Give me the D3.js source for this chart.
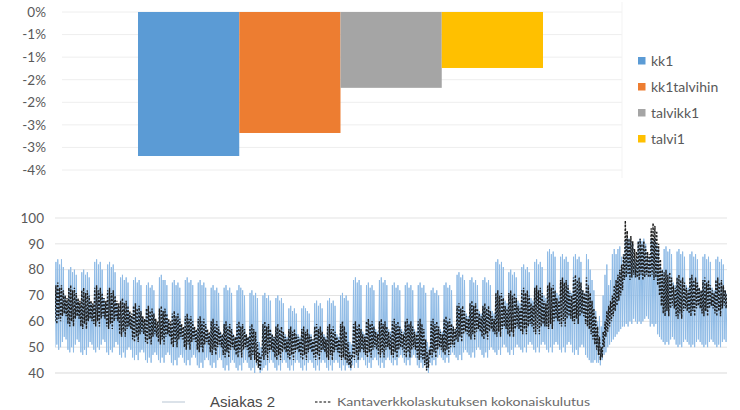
<!DOCTYPE html>
<html>
<head>
<meta charset="utf-8">
<script src="https://cdn.jsdelivr.net/npm/d3@7/dist/d3.min.js"></script>
<style>
  html, body { margin: 0; padding: 0; background: #fff; }
  svg { display: block; }
</style>
</head>
<body>
<svg id="chart" width="740" height="410"></svg>
<script>
// ---------- Top chart data ----------
const barSeries = ["kk1", "kk1talvihin", "talvikk1", "talvi1"];
const barValues = [-3.19, -2.68, -1.68, -1.24];          // percent
const barColors = ["#5b9bd5", "#ed7d31", "#a5a5a5", "#ffc000"];
const barTickValues = [0, -0.5, -1, -1.5, -2, -2.5, -3, -3.5];
const barTickLabels = ["0%", "-1%", "-1%", "-2%", "-2%", "-3%", "-3%", "-4%"];

// ---------- Bottom chart data (half-day samples: night low, day high) ----------
const lineTickValues = [40, 50, 60, 70, 80, 90, 100];
const lineLegend = ["Asiakas 2", "Kantaverkkolaskutuksen kokonaiskulutus"];
const asiakas2 = [
50,83,51,84,49,82,50,84,52,81,54,70,53,68,
49,80,48,81,50,79,48,80,51,78,53,68,52,66,
48,79,47,80,49,78,47,79,50,77,52,67,51,66,
49,83,48,84,50,82,49,83,51,80,53,69,52,67,
48,82,47,83,49,81,48,82,50,79,52,67,51,65,
47,77,46,78,48,76,46,77,49,75,50,63,49,62,
46,76,45,77,47,75,45,76,48,74,49,61,48,60,
45,74,44,75,46,73,44,74,47,72,48,60,47,59,
45,77,44,78,46,76,44,76,47,74,48,60,47,58,
44,75,43,76,45,74,43,75,46,73,47,58,46,57,
44,76,43,77,45,75,43,76,46,74,47,57,46,56,
43,75,42,76,44,74,42,75,45,73,46,56,45,55,
43,73,42,74,44,72,42,73,45,71,46,56,45,55,
42,73,41,74,43,72,41,73,44,71,45,55,44,54,
42,72,41,74,43,73,41,72,44,70,45,55,44,54,
42,71,41,72,42,70,40,71,43,69,42,52,40,50,
41,70,42,71,43,69,41,70,44,68,45,55,44,54,
42,69,41,70,43,68,41,69,44,67,45,55,44,54,
42,65,41,66,43,64,41,65,44,63,45,55,44,54,
42,65,41,66,43,65,41,64,44,63,45,55,44,53,
42,67,41,68,43,66,41,67,44,65,45,55,44,54,
42,68,41,69,43,67,41,68,44,66,45,55,44,54,
42,70,41,71,43,69,41,70,43,68,42,52,41,51,
43,76,42,77,44,75,42,76,45,74,46,56,45,55,
43,74,42,75,44,73,42,74,45,72,46,57,45,56,
43,76,42,77,44,75,42,76,45,74,46,57,45,56,
44,74,43,75,45,73,43,74,46,72,47,57,46,56,
44,74,43,75,45,73,43,74,46,72,47,57,46,56,
43,74,42,75,44,73,42,74,43,71,41,52,40,50,
44,72,43,73,45,71,43,72,46,70,47,57,46,56,
45,74,44,75,46,73,44,74,47,72,48,58,47,57,
46,78,45,79,47,77,45,78,48,76,49,63,48,62,
47,76,46,77,48,75,46,76,49,74,50,64,49,63,
47,76,46,77,48,75,46,76,49,74,50,64,49,63,
48,83,47,84,49,82,47,83,50,81,51,68,50,67,
48,79,47,80,49,78,47,79,50,77,51,68,50,67,
49,81,48,82,50,80,48,81,51,79,52,69,51,68,
49,83,48,84,50,82,48,83,51,81,52,70,51,69,
49,87,48,88,50,86,48,87,51,85,52,71,51,70,
49,85,48,86,50,84,48,85,51,83,52,72,51,71,
48,85,47,86,49,84,47,85,50,83,51,72,50,71,
47,86,46,84,45,80,44,76,44,72,45,64,44,60,
44,62,43,58,45,70,47,78,48,82,50,74,51,76,
52,86,53,88,54,86,55,88,56,89,57,85,58,86,
58,91,59,92,58,92,60,91,59,90,61,85,60,84,
59,91,60,92,59,91,60,92,61,90,62,86,61,85,
58,92,59,91,58,92,59,90,55,88,54,82,53,80,
52,88,51,89,52,87,51,88,53,86,54,75,53,74,
51,87,50,88,51,86,50,87,52,85,53,74,52,73,
51,86,50,87,51,85,50,86,52,84,53,73,52,72,
51,85,50,86,51,84,50,85,52,83,53,73,52,72,
51,84,50,85,51,83,50,84,52,82,53,72,52,71
];
const kokonaiskulutus = [
60,74,59,75,61,73,60,74,62,72,63,70,62,69,
59,73,58,74,60,72,58,73,61,71,62,69,61,68,
58,72,57,73,59,71,57,72,60,70,61,68,60,67,
59,73,58,74,60,72,58,73,61,71,62,69,61,68,
58,72,57,73,59,71,57,72,60,70,61,68,60,67,
55,68,54,69,56,67,54,68,57,66,58,64,57,63,
53,66,52,67,54,65,52,66,55,64,56,62,55,61,
52,65,51,66,53,64,51,65,54,63,55,61,54,60,
52,65,51,66,53,64,51,65,54,63,55,61,54,60,
51,63,50,64,52,62,50,63,53,61,54,59,53,58,
50,62,49,63,51,61,49,62,52,60,53,58,52,57,
49,61,48,62,50,60,48,61,51,59,52,57,51,56,
48,60,47,61,49,59,47,60,50,58,51,56,50,55,
47,59,46,60,48,58,46,59,49,57,50,55,49,54,
47,59,46,60,48,58,46,59,49,57,50,55,49,54,
46,58,45,59,47,57,45,56,44,52,42,48,41,46,
46,59,45,60,47,58,45,59,48,57,49,55,48,54,
46,58,45,59,47,57,45,58,48,56,49,54,48,53,
46,57,45,58,47,56,45,57,48,55,49,54,48,53,
46,57,45,58,47,56,45,57,48,55,49,54,48,53,
46,58,45,59,47,57,45,58,48,56,49,54,48,53,
46,58,45,59,47,57,45,58,48,56,49,54,48,53,
46,59,45,60,46,58,45,56,44,52,43,48,42,47,
46,59,45,60,47,58,45,59,48,57,49,55,48,54,
47,60,46,61,48,59,46,60,49,58,50,56,49,55,
47,60,46,61,48,59,46,60,49,58,50,56,49,55,
47,60,46,61,48,59,46,60,49,58,50,56,49,55,
47,60,46,61,48,59,46,60,49,58,50,56,49,55,
46,60,45,61,46,59,45,57,43,53,41,48,42,49,
47,60,46,61,48,59,46,60,49,58,50,56,49,55,
48,61,47,62,49,60,47,61,50,59,51,58,50,57,
53,66,52,67,54,65,52,66,55,64,56,62,55,61,
54,67,53,68,55,66,53,67,56,65,57,63,56,62,
54,66,53,67,55,65,53,66,56,64,57,62,56,61,
55,71,54,72,56,70,54,71,57,69,58,66,57,65,
55,71,54,72,56,70,54,71,57,69,58,66,57,65,
56,72,55,73,57,71,55,72,58,70,59,67,58,66,
56,73,55,74,57,72,55,73,58,71,59,68,58,67,
58,74,57,75,59,73,57,74,60,72,61,69,60,68,
59,76,58,77,60,75,58,76,61,74,62,71,61,70,
60,77,59,78,61,76,59,77,62,75,63,72,62,71,
59,77,58,74,57,71,55,68,53,65,51,62,49,58,
47,54,45,50,46,56,50,60,54,64,56,66,58,68,
60,70,62,74,64,76,66,78,68,80,70,82,72,86,
76,99,77,95,78,92,76,93,77,91,78,88,77,87,
77,91,76,92,78,90,76,91,77,89,78,87,77,86,
77,96,78,98,76,97,77,95,74,90,70,84,66,80,
63,79,62,80,64,78,62,79,65,77,66,74,65,73,
62,77,61,78,63,76,61,77,64,75,65,73,64,72,
63,77,62,78,64,76,62,77,65,75,66,73,65,72,
63,76,62,77,64,75,62,76,65,74,66,72,65,71,
63,76,62,77,64,75,62,76,65,74,66,72,65,71
];

const svg = d3.select("#chart");
const FONT = "Lato, 'Open Sans', 'Liberation Sans', sans-serif";
const AXIS_GRAY = "#595959";

// ================= TOP BAR CHART =================
const topBox = { left: 62, right: 622, y0: 12, y1: 170 };
const yBar = d3.scaleLinear().domain([-3.5, 0]).range([topBox.y1, topBox.y0]);
const xBar = d3.scaleBand().domain(barSeries).range([138, 543]).padding(0);

// gridlines
svg.append("g").selectAll("line").data(barTickValues).join("line")
  .attr("x1", topBox.left).attr("x2", topBox.right)
  .attr("y1", d => yBar(d)).attr("y2", d => yBar(d))
  .attr("stroke", "#eeeeee").attr("stroke-width", 1);
// faint right border of plot
svg.append("line").attr("x1", topBox.right).attr("x2", topBox.right)
  .attr("y1", 2).attr("y2", 178).attr("stroke", "#f3f3f3");

// y axis (labels only)
const yAxisBar = d3.axisLeft(yBar).tickValues(barTickValues)
  .tickFormat((d, i) => barTickLabels[i]).tickSize(0).tickPadding(0);
const gYBar = svg.append("g").attr("transform", "translate(46,0)").call(yAxisBar);
gYBar.select(".domain").remove();
gYBar.selectAll("text").attr("fill", AXIS_GRAY).style("font-family", FONT).style("font-size", "13.5px");

// bars
svg.append("g").selectAll("rect").data(barValues).join("rect")
  .attr("x", (d, i) => xBar(barSeries[i]))
  .attr("width", xBar.bandwidth())
  .attr("y", d => yBar(0))
  .attr("height", d => yBar(d) - yBar(0))
  .attr("fill", (d, i) => barColors[i]);

// legend
const legTop = svg.append("g");
barSeries.forEach((s, i) => {
  const cy = 61 + i * 26;
  legTop.append("rect").attr("x", 638).attr("y", cy - 4).attr("width", 7.5).attr("height", 7.5)
    .attr("fill", barColors[i]);
  legTop.append("text").attr("x", 651).attr("y", cy + 4.5).text(s)
    .attr("fill", AXIS_GRAY).style("font-family", FONT).style("font-size", "14px");
});

// ================= BOTTOM LINE CHART =================
const bot = { left: 55, right: 727, y0: 218, y1: 373 };
const yLine = d3.scaleLinear().domain([40, 100]).range([bot.y1, bot.y0]);
const xLine = d3.scaleLinear().domain([0, asiakas2.length - 1]).range([bot.left, bot.right]);

svg.append("g").selectAll("line").data(lineTickValues).join("line")
  .attr("x1", bot.left).attr("x2", bot.right)
  .attr("y1", d => yLine(d)).attr("y2", d => yLine(d))
  .attr("stroke", d => d === 40 ? "#d9d9d9" : "#e3e3e3").attr("stroke-width", 1);

const yAxisLine = d3.axisLeft(yLine).tickValues(lineTickValues).tickSize(0).tickPadding(0);
const gYLine = svg.append("g").attr("transform", "translate(44,0)").call(yAxisLine);
gYLine.select(".domain").remove();
gYLine.selectAll("text").attr("fill", AXIS_GRAY).style("font-family", FONT).style("font-size", "13.5px");

svg.append("clipPath").attr("id", "clipBot").append("rect")
  .attr("x", bot.left).attr("y", bot.y0 - 6).attr("width", bot.right - bot.left).attr("height", bot.y1 - bot.y0 + 6);

const lineGen = d3.line().x((d, i) => xLine(i)).y(d => yLine(d));
const plot = svg.append("g").attr("clip-path", "url(#clipBot)");
plot.append("path").datum(asiakas2).attr("d", lineGen)
  .attr("fill", "none").attr("stroke", "#8fbbe6").attr("stroke-width", 1).attr("stroke-linejoin", "round");
plot.append("path").datum(kokonaiskulutus).attr("d", lineGen)
  .attr("fill", "none").attr("stroke", "#1e1e1e").attr("stroke-width", 1.4)
  .attr("stroke-dasharray", "2,1.6");

// bottom legend
const legBot = svg.append("g");
legBot.append("line").attr("x1", 162).attr("x2", 185).attr("y1", 402).attr("y2", 402)
  .attr("stroke", "#cfd8e2").attr("stroke-width", 1.5);
legBot.append("text").attr("x", 210).attr("y", 407).text(lineLegend[0])
  .attr("fill", "#4a4a4a").style("font-family", "'Liberation Sans', Arial, sans-serif").style("font-size", "15px");
legBot.append("line").attr("x1", 315).attr("x2", 331).attr("y1", 402).attr("y2", 402)
  .attr("stroke", "#555").attr("stroke-width", 1.5).attr("stroke-dasharray", "2.5,1.8");
legBot.append("text").attr("x", 337).attr("y", 406).text(lineLegend[1])
  .attr("fill", "#6a6a6a").style("font-family", FONT).style("font-size", "12px")
  .attr("textLength", 253).attr("lengthAdjust", "spacingAndGlyphs");
</script>
</body>
</html>
